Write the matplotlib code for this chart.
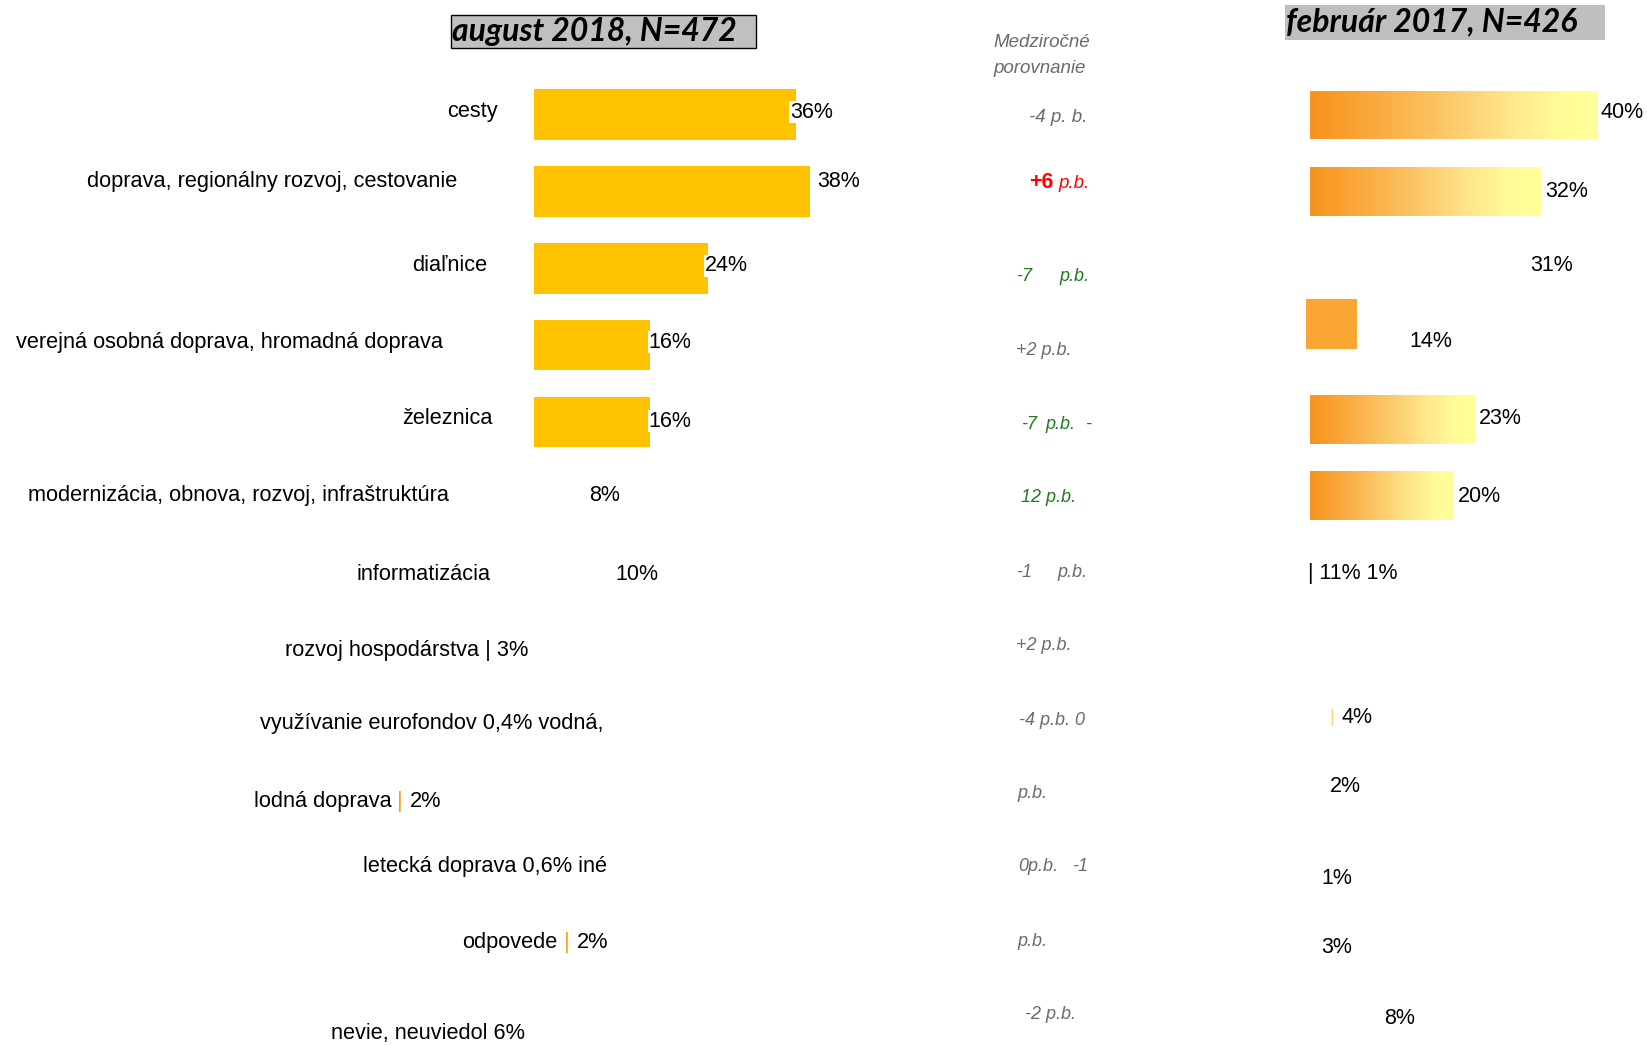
import numpy as np
import matplotlib
matplotlib.use("Agg")
import matplotlib.pyplot as plt
from matplotlib.colors import LinearSegmentedColormap
from matplotlib.patches import Rectangle

# ---------------- data ----------------
title_aug = "august 2018, N=472"
title_feb = "február 2017, N=426"
header_change = ["Medziročné", "porovnanie"]

aug_bar_categories = ["cesty", "doprava, regionálny rozvoj, cestovanie", "diaľnice",
                      "verejná osobná doprava, hromadná doprava", "železnica"]
aug_bar_values = [36, 38, 24, 16, 16]
aug_value_labels = ["36%", "38%", "24%", "16%", "16%", "8%", "10%"]

left_texts = ["cesty", "doprava, regionálny rozvoj, cestovanie", "diaľnice",
              "verejná osobná doprava, hromadná doprava", "železnica",
              "modernizácia, obnova, rozvoj, infraštruktúra", "informatizácia",
              "rozvoj hospodárstva | 3%", "využívanie eurofondov 0,4% vodná,",
              "lodná doprava", "letecká doprava 0,6% iné", "odpovede",
              "nevie, neuviedol 6%"]
left_bar_marks = ["|", "|"]
left_bar_mark_values = ["2%", "2%"]

feb_bar_rows = [0, 1, 4, 5]
feb_bar_values = [40, 32, 23, 20]
feb_fragment_row = 2.74
feb_fragment_value = 7.2
feb_labels = ["40%", "32%", "31%", "14%", "23%", "20%", "| 11% 1%", "4%",
              "2%", "1%", "3%", "8%"]

change_texts = ["-4 p. b.", "+6", "p.b.", "-7", "p.b.", "+2 p.b.", "-7", "p.b.", "-",
                "12 p.b.", "-1", "p.b.", "+2 p.b.", "-4 p.b. 0", "p.b.",
                "0p.b.", "-1", "p.b.", "-2 p.b."]
change_kinds = ["gray_n", "red_b", "red", "green", "green", "gray", "green", "green",
                "green", "green", "gray", "gray", "gray", "gray", "gray",
                "gray", "gray", "gray", "gray"]

# ---------------- layout / style ----------------
W, H = 1647, 1045
RW, RH = 1568.0, 995.0          # coordinate system used for layout
NARROW = ["Liberation Sans", "DejaVu Sans"]
SANS = ["Liberation Sans", "DejaVu Sans"]
TITLE_FONT = ["Lato", "DejaVu Sans"]
LAB_FS = 15.7
VAL_FS = 15.5
CH_FS = 13
GRAY = "#6b6b6b"
GREEN = "#1f7a1f"
RED = "#ff0000"
BAR_COL = "#FEC200"

fig = plt.figure(figsize=(W / 100, H / 100), dpi=100)
fig.patch.set_facecolor("white")


def axes_px(x0, y0, w, h):
    return fig.add_axes([x0 / RW, 1 - (y0 + h) / RH, w / RW, h / RH])


# left bars
row_l0, row_lsp = 109.0, 73.25
px_per_pct_l = 6.93
ax_l = axes_px(508, row_l0 - row_lsp / 2, 50 * px_per_pct_l, row_lsp * len(aug_bar_values))
ax_l.barh(np.arange(len(aug_bar_values)), aug_bar_values, height=0.655,
          color=BAR_COL, edgecolor="none")
ax_l.set_xlim(0, 50)
ax_l.set_ylim(len(aug_bar_values) - 0.5, -0.5)
ax_l.axis("off")

# right bars (gradient)
row_r0, row_rsp = 109.5, 72.5
px_per_pct_r = 6.85
ax_r = axes_px(1247 - px_per_pct_r, row_r0 - row_rsp / 2, 50 * px_per_pct_r, row_rsp * 6)
cmap = LinearSegmentedColormap.from_list(
    "grad", [(0.0, "#F7931E"), (0.12, "#F99F2E"), (0.4, "#FBBE5C"), (0.7, "#FFE78C"),
             (0.88, "#FFFC98"), (1.0, "#FFFF99")])
grad = np.linspace(0, 1, 256)[None, :]
bh = 0.64
bars = ax_r.barh(feb_bar_rows, feb_bar_values, height=bh, color="none", edgecolor="none")
for rect, r, v in zip(bars, feb_bar_rows, feb_bar_values):
    im = ax_r.imshow(grad, cmap=cmap, aspect="auto", interpolation="bilinear",
                     extent=[0, v, r + bh / 2, r - bh / 2])
    im.set_clip_path(rect)
ax_r.barh([feb_fragment_row], [feb_fragment_value], left=-0.6, height=0.66,
          color="#FBA533", edgecolor="none")
ax_r.set_xlim(-1, 49)
ax_r.set_ylim(5.5, -0.5)
ax_r.axis("off")

# overlay for text
ax = fig.add_axes([0, 0, 1, 1])
ax.set_xlim(0, RW)
ax.set_ylim(RH, 0)
ax.axis("off")

# titles
ax.add_patch(Rectangle((429, 14), 291, 32, facecolor="#C0C0C0", edgecolor="black", lw=1.0))
ax.text(430, 30, title_aug, ha="left", va="center", fontsize=23, fontweight="bold",
        fontstyle="italic", family=TITLE_FONT, color="black")
ax.add_patch(Rectangle((1223, 5), 305, 33, facecolor="#BFBFBF", edgecolor="none"))
ax.text(1224, 21, title_feb, ha="left", va="center", fontsize=23, fontweight="bold",
        fontstyle="italic", family=TITLE_FONT, color="black")

# header of change column
ax.text(946, 40, header_change[0], ha="left", va="center", fontsize=CH_FS + 0.5,
        fontstyle="italic", family=NARROW, color=GRAY)
ax.text(946, 65, header_change[1], ha="left", va="center", fontsize=CH_FS + 0.5,
        fontstyle="italic", family=NARROW, color=GRAY)

# left labels (right edge, y)
left_pos = [(474, 106), (435, 173), (464, 253), (422, 326), (469, 398), (427, 472),
            (467, 547), (503, 619), (575, 689), (373, 763), (578, 825), (531, 897),
            (500, 984)]
for s, (x, y) in zip(left_texts, left_pos):
    ax.text(x, y, s, ha="right", va="center", fontsize=LAB_FS, family=NARROW, color="black")
for m, v, (x, y) in zip(left_bar_marks, left_bar_mark_values, [(381, 763), (540, 897)]):
    ax.text(x, y, m, ha="center", va="center", fontsize=LAB_FS, family=NARROW, color="#F7A21B")
    ax.text(x + 9, y, v, ha="left", va="center", fontsize=LAB_FS, family=NARROW, color="black")

# left value labels (left edge, y, white background?)
aug_val_pos = [(752, 107, True), (778, 173, False), (671, 253, True), (617, 326, True),
               (617, 401, True), (561, 472, False), (586, 547, False)]
for s, (x, y, bg) in zip(aug_value_labels, aug_val_pos):
    kw = {}
    if bg:
        kw["bbox"] = dict(facecolor="white", edgecolor="none", pad=0.3)
    ax.text(x, y, s, ha="left", va="center", fontsize=VAL_FS, family=NARROW, color="black", **kw)

# change column
change_pos = [(980, 112), (980, 174), (1008, 175), (967, 263), (1009, 263), (967, 334),
              (972, 404), (995, 404), (1033, 404), (972, 474), (967, 545), (1007, 545),
              (967, 615), (970, 686), (969, 756), (969, 825), (1021, 825), (969, 896),
              (976, 966)]
for s, k, (x, y) in zip(change_texts, change_kinds, change_pos):
    kw = dict(ha="left", va="center", fontsize=CH_FS, fontstyle="italic", family=SANS)
    if k == "gray_n":
        kw.update(color=GRAY, fontsize=CH_FS + 0.5)
    elif k == "gray":
        kw.update(color=GRAY)
    elif k == "green":
        kw.update(color=GREEN)
    elif k == "red":
        kw.update(color=RED, fontsize=CH_FS + 0.5)
    elif k == "red_b":
        kw.update(color=RED, fontsize=CH_FS + 2.5, fontweight="bold", fontstyle="normal")
    ax.text(x, y, s, **kw)

# right value labels
feb_pos = [(1524, 107), (1471, 182), (1457, 253), (1342, 325), (1408, 398), (1388, 473),
           (1245, 546), (1277, 683), (1266, 749), (1258, 836), (1258, 902), (1318, 970)]
for s, (x, y) in zip(feb_labels, feb_pos):
    ax.text(x, y, s, ha="left", va="center", fontsize=VAL_FS, family=NARROW, color="black")
ax.text(1268, 683, "|", ha="center", va="center", fontsize=VAL_FS - 2, family=NARROW,
        color="#FFD27F")

fig.savefig("out.png", dpi=100, facecolor="white")
